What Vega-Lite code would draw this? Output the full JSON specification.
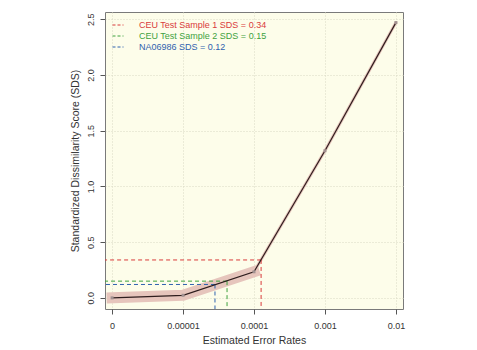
{
  "$schema": "https://vega.github.io/schema/vega-lite/v6.json",
  "width": 298,
  "height": 297,
  "autosize": {"type": "none"},
  "padding": {"left": 105, "top": 12, "right": 74, "bottom": 41},
  "background": "white",
  "datasets": {
    "sds": [
      {"idx": 0, "rate": "0", "sds": 0.0},
      {"idx": 1, "rate": "0.00001", "sds": 0.023},
      {"idx": 2, "rate": "0.0001", "sds": 0.234},
      {"idx": 3, "rate": "0.001", "sds": 1.32},
      {"idx": 4, "rate": "0.01", "sds": 2.47}
    ],
    "samples": [
      {"label": "CEU Test Sample 1 SDS = 0.34", "x": 2.1, "y": 0.34},
      {"label": "CEU Test Sample 2 SDS = 0.15", "x": 1.62, "y": 0.15},
      {"label": "NA06986 SDS = 0.12", "x": 1.45, "y": 0.12}
    ]
  },
  "layer": [
    {
      "data": {"name": "sds"},
      "transform": [{"filter": "datum.idx <= 2"}],
      "mark": {"type": "line", "color": "#e6c5bc", "strokeWidth": 11, "strokeCap": "square", "strokeJoin": "round"},
      "encoding": {
        "x": {
          "field": "idx", "type": "quantitative",
          "scale": {"domain": [-0.1, 4.1], "nice": false, "zero": false},
          "axis": {
            "values": [0, 1, 2, 3, 4],
            "labelExpr": "['0','0.00001','0.0001','0.001','0.01'][datum.value]",
            "title": "Estimated Error Rates",
            "grid": true
          }
        },
        "y": {
          "field": "sds", "type": "quantitative",
          "scale": {"domain": [-0.1, 2.565], "nice": false, "zero": false},
          "axis": {
            "values": [0, 0.5, 1, 1.5, 2, 2.5],
            "title": "Standardized Dissimilarity Score (SDS)",
            "labelAngle": -90,
            "labelAlign": "center",
            "labelBaseline": "bottom",
            "grid": true
          }
        }
      }
    },
    {
      "data": {"name": "sds"},
      "transform": [{"filter": "datum.idx >= 2"}],
      "mark": {"type": "line", "color": "#e6c5bc", "strokeWidth": 3, "strokeCap": "round"},
      "encoding": {
        "x": {"field": "idx", "type": "quantitative"},
        "y": {"field": "sds", "type": "quantitative"}
      }
    },
    {
      "data": {"name": "samples"},
      "mark": {"type": "rule", "strokeDash": [4, 3], "strokeWidth": 1},
      "encoding": {
        "x": {"field": "x", "type": "quantitative"},
        "x2": {"value": 0},
        "y": {"field": "y", "type": "quantitative"},
        "color": {
          "field": "label", "type": "nominal",
          "scale": {
            "domain": ["CEU Test Sample 1 SDS = 0.34", "CEU Test Sample 2 SDS = 0.15", "NA06986 SDS = 0.12"],
            "range": ["#d93b3b", "#3ea23e", "#2f62ae"]
          },
          "legend": {
            "title": null,
            "orient": "none",
            "legendX": 7,
            "legendY": 7,
            "symbolType": "stroke",
            "symbolSize": 121,
            "symbolDash": [3, 2],
            "symbolStrokeWidth": 1,
            "labelFontSize": 9,
            "labelOffset": 15,
            "rowPadding": 0,
            "labelLimit": 300,
            "encode": {
              "labels": {"update": {"fill": {"signal": "scale('color', datum.value)"}}}
            }
          }
        }
      }
    },
    {
      "data": {"name": "samples"},
      "mark": {"type": "rule", "strokeDash": [4, 3], "strokeWidth": 1},
      "encoding": {
        "x": {"field": "x", "type": "quantitative"},
        "y": {"field": "y", "type": "quantitative"},
        "y2": {"value": "height"},
        "color": {"field": "label", "type": "nominal"}
      }
    },
    {
      "data": {"name": "sds"},
      "mark": {"type": "line", "color": "#2e1d1d", "strokeWidth": 1.2},
      "encoding": {
        "x": {"field": "idx", "type": "quantitative"},
        "y": {"field": "sds", "type": "quantitative"}
      }
    },
    {
      "data": {"name": "sds"},
      "mark": {"type": "point", "shape": "square", "filled": true, "size": 9, "color": "#a09090", "opacity": 1},
      "encoding": {
        "x": {"field": "idx", "type": "quantitative"},
        "y": {"field": "sds", "type": "quantitative"}
      }
    }
  ],
  "config": {
    "font": "Liberation Sans",
    "view": {"fill": "#fdfdea", "stroke": "#7a7a7a", "strokeWidth": 1},
    "axis": {
      "domain": false,
      "tickSize": 5,
      "tickColor": "#555555",
      "labelColor": "#333333",
      "labelFontSize": 9,
      "titleFontSize": 10.5,
      "titleFontWeight": "normal",
      "titleColor": "#333333",
      "gridColor": "#d8d8c4",
      "gridDash": [1, 2],
      "gridWidth": 1
    },
    "axisX": {"labelPadding": 7, "titlePadding": 5},
    "axisY": {"labelPadding": 5, "titlePadding": 6}
  }
}
